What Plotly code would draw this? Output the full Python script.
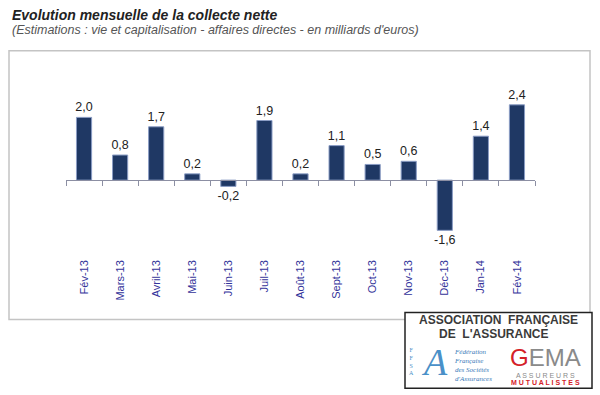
import plotly.graph_objects as go

# ---- data ----
months = ["Fév-13", "Mars-13", "Avril-13", "Mai-13", "Juin-13", "Juil-13", "Août-13",
          "Sept-13", "Oct-13", "Nov-13", "Déc-13", "Jan-14", "Fév-14"]
collecte = [2.0, 0.8, 1.7, 0.2, -0.2, 1.9, 0.2, 1.1, 0.5, 0.6, -1.6, 1.4, 2.4]

title_text = "Evolution mensuelle de la collecte nette"
subtitle_text = "(Estimations : vie et capitalisation - affaires directes - en milliards d'euros)"

# ---- layout geometry (pixels) ----
W, H = 600, 395
L, R = 66, 65
Y_MIN, Y_MAX = -2.45, 3.0
PX_PER_UNIT = 31.5
ZERO_Y = 180
T = ZERO_Y - Y_MAX * PX_PER_UNIT
B = H - (ZERO_Y - Y_MIN * PX_PER_UNIT)
PW = W - L - R
PH = H - T - B


def px(x):
    return (x - L) / PW


def py(y):
    return (H - B - y) / PH


zero_pos = (0 - Y_MIN) / (Y_MAX - Y_MIN)

fig = go.Figure()
fig.add_trace(go.Bar(
    x=months, y=collecte,
    marker=dict(color="#1f3864", line=dict(color="#8a9cc4", width=1)),
    texttemplate="%{y:.1f}", textposition="outside", constraintext="none",
    textfont=dict(family="Liberation Sans", size=12.5, color="#222222"),
    cliponaxis=False, hoverinfo="skip", xaxis="x", yaxis="y",
))
# invisible trace carrying the rotated month labels on the bottom axis
fig.add_trace(go.Scatter(
    x=months, y=collecte, mode="markers", marker=dict(opacity=0),
    hoverinfo="skip", xaxis="x2", yaxis="y", showlegend=False,
))

fig.update_layout(
    width=W, height=H,
    margin=dict(l=L, r=R, t=T, b=B, pad=0, autoexpand=False),
    paper_bgcolor="white", plot_bgcolor="white",
    separators=", ",
    showlegend=False,
    bargap=0.58,
    xaxis=dict(type="category", categoryorder="array", categoryarray=months,
               range=[-0.5, len(months) - 0.5], anchor="free", position=zero_pos,
               showline=True, linecolor="#8c8fa3", linewidth=1,
               ticks="outside", tickson="boundaries", ticklen=5, tickcolor="#8c8fa3",
               showticklabels=False, showgrid=False, zeroline=False, fixedrange=True),
    xaxis2=dict(type="category", categoryorder="array", categoryarray=months,
                range=[-0.5, len(months) - 0.5], overlaying="x", anchor="y", side="bottom",
                showline=False, ticks="", showgrid=False, zeroline=False, fixedrange=True,
                tickangle=-90, tickfont=dict(family="Liberation Sans", size=11, color="#33339a")),
    yaxis=dict(range=[Y_MIN, Y_MAX], visible=False, fixedrange=True),
)

# chart frame
fig.add_shape(type="rect", xref="paper", yref="paper",
              x0=px(9), x1=px(590), y0=py(320), y1=py(50),
              line=dict(color="#c4c4c4", width=1.5), layer="below")


def note(text, x, y, size, color, family="Liberation Sans", xanchor="center",
         yanchor="middle", align="center"):
    fig.add_annotation(text=text, xref="paper", yref="paper", x=px(x), y=py(y),
                       xanchor=xanchor, yanchor=yanchor, align=align, showarrow=False,
                       borderpad=0, font=dict(family=family, size=size, color=color))


# titles
note("<b><i>" + title_text + "</i></b>", 11, 5, 14, "#222222", xanchor="left", yanchor="top")
note("<i>" + subtitle_text + "</i>", 11, 21, 12.5, "#555555", xanchor="left", yanchor="top")

# logo box
fig.add_shape(type="rect", xref="paper", yref="paper",
              x0=px(405), x1=px(592), y0=py(389), y1=py(313),
              line=dict(color="#222222", width=1.5), fillcolor="white", layer="above")
note("<b>ASSOCIATION  FRANÇAISE</b>", 498, 320.5, 12, "#3a3a3a")
note("<b>DE  L'ASSURANCE</b>", 494, 334, 12, "#3a3a3a")
note("<i>A</i>", 434, 363, 38, "#4a90c8", family="Liberation Serif")
note("F<br>F<br>S<br>A", 411, 362, 6, "#4a90c8", family="Liberation Serif")
note("<i>Fédération<br>Française<br>des Sociétés<br>d'Assurances</i>", 453, 366, 7,
     "#3a7ab8", family="Liberation Serif", xanchor="left", align="left")
note("<span style='color:#d42027'>G</span>EMA", 545, 358, 24, "#8a8a8a")
note("A S S U R E U R S", 545, 376, 7, "#8a8a8a")
note("<b>M U T U A L I S T E S</b>", 545, 383, 7, "#d42027")

fig.write_html("out.html", config={"displayModeBar": False},
               post_script="document.body.style.margin='0';")
